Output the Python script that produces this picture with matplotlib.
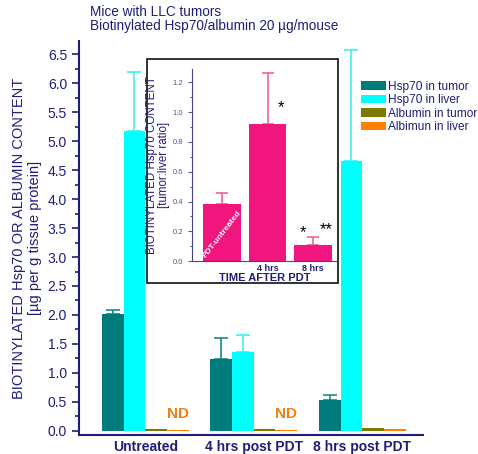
import matplotlib.pyplot as plt
from matplotlib.patches import Rectangle, Patch
from matplotlib.ticker import MultipleLocator
import numpy as np

plt.rcParams['font.family'] = ['Liberation Sans', 'DejaVu Sans']

# main chart data
groups = ['Untreated', '4 hrs post PDT', '8 hrs post PDT']
series = ['Hsp70 in tumor', 'Hsp70 in liver', 'Albumin in tumor', 'Albimun in liver']
hsp_tumor = [2.02, 1.24, 0.54]
hsp_tumor_err = [0.07, 0.37, 0.08]
hsp_liver = [5.18, 1.36, 4.65]
hsp_liver_err = [1.02, 0.30, 1.93]
alb_tumor = [0.03, 0.03, 0.05]
alb_liver = [0.01, 0.01, 0.03]

# inset data
inset_labels = ['', '4 hrs', '8 hrs']
ratio = [0.38, 0.92, 0.11]
ratio_err = [0.08, 0.34, 0.05]

navy = '#1e1e78'
colors = ['#007b7b', '#00ffff', '#7b7b00', '#ff8000']
err_colors = ['#1a8a8a', '#40f0f0', '#7b7b00', '#ff8000']
pink = '#f0157f'

fig = plt.figure(figsize=(4.78, 4.54), dpi=100)
ax = fig.add_axes([0.165, 0.042, 0.72, 0.868])

x = np.arange(len(groups)) * 5.0
values = [hsp_tumor, hsp_liver, alb_tumor, alb_liver]
errs = [hsp_tumor_err, hsp_liver_err, None, None]
for i, (vals, c) in enumerate(zip(values, colors)):
    pos = x + (i - 1.5)
    ax.bar(pos, vals, width=1.0, color=c, zorder=2)
    if errs[i] is not None:
        ax.errorbar(pos, vals, yerr=[np.zeros(3), errs[i]], fmt='none',
                    ecolor=err_colors[i], elinewidth=1.2, capsize=5, capthick=1.2, zorder=1)

for g in [0, 1]:
    ax.text(x[g] + 1.5, 0.29, 'ND', color='#f08010', fontsize=11, fontweight='bold',
            ha='center', va='center')

ax.set_xlim(-3.06, 12.8)
ax.set_ylim(-0.07, 6.73)
ax.yaxis.set_major_locator(MultipleLocator(0.5))
ax.yaxis.set_minor_locator(MultipleLocator(0.25))
ax.yaxis.set_major_formatter(plt.FormatStrFormatter('%.1f'))
ax.set_xticks(x)
ax.set_xticklabels(groups, fontweight='bold', fontsize=10, color=navy)
ax.tick_params(axis='x', length=0, pad=4)
ax.tick_params(axis='y', colors=navy, labelsize=10, width=1.2, length=5)
ax.tick_params(axis='y', which='minor', colors=navy, width=1.2, length=3)
for s in ['top', 'right']:
    ax.spines[s].set_visible(False)
for s in ['left', 'bottom']:
    ax.spines[s].set_color(navy)
    ax.spines[s].set_linewidth(1.5)
ax.set_ylabel('BIOTINYLATED Hsp70 OR ALBUMIN CONTENT\n[\u00b5g per g tissue protein]',
              fontsize=10.5, color=navy, labelpad=4)

fig.text(0.188, 0.99, 'Mice with LLC tumors\nBiotinylated Hsp70/albumin 20 \u00b5g/mouse',
         fontsize=9.8, color=navy, va='top', ha='left', linespacing=1.05)

handles = [Patch(facecolor=c) for c in colors]
fig.legend(handles, series, loc='upper left', bbox_to_anchor=(0.755, 0.822),
           frameon=False, fontsize=8.6, handlelength=2.1, handleheight=0.75,
           handletextpad=0.2, labelspacing=0.12, borderaxespad=0, borderpad=0,
           labelcolor=navy)

# inset frame
fig.patches.append(Rectangle((147 / 478, 1 - 283 / 454), (338 - 147) / 478, (283 - 59) / 454,
                             transform=fig.transFigure, facecolor='white',
                             edgecolor='#222222', linewidth=1.3, zorder=3))

ins = fig.add_axes([0.402, 0.425, 0.303, 0.423], zorder=4)
ins.patch.set_visible(False)
xi = np.arange(len(ratio))
ins.bar(xi, ratio, width=0.835, color=pink, zorder=2)
ins.errorbar(xi, ratio, yerr=[np.zeros(3), ratio_err], fmt='none', ecolor='#f060a0',
             elinewidth=1.2, capsize=4, capthick=1.2, zorder=1)
ins.set_xlim(-0.66, 2.53)
ins.set_ylim(0, 1.29)
ins.yaxis.set_major_locator(MultipleLocator(0.2))
ins.yaxis.set_minor_locator(MultipleLocator(0.1))
ins.yaxis.set_major_formatter(plt.FormatStrFormatter('%.1f'))
ins.set_xticks(xi)
ins.set_xticklabels(inset_labels, fontsize=6.5, fontweight='bold', color=navy)
ins.tick_params(axis='x', length=0, pad=2)
ins.tick_params(axis='y', labelsize=5.5, colors='#555588', length=3, width=0.8)
ins.tick_params(axis='y', which='minor', length=1.5, width=0.8, colors='#555588')
for s in ['top', 'right']:
    ins.spines[s].set_visible(False)
for s in ['left', 'bottom']:
    ins.spines[s].set_color('#444488')
    ins.spines[s].set_linewidth(0.8)
ins.set_xlabel('TIME AFTER PDT', fontsize=8, fontweight='bold', color=navy, labelpad=0)
ins.set_ylabel('BIOTINYLATED Hsp70 CONTENT\n[tumor:liver ratio]', fontsize=8.3,
               color=navy, labelpad=2, linespacing=1.0)
ins.text(0, 0.18, 'PDT-untreated', rotation=52, rotation_mode='anchor', color='white',
         fontsize=6, ha='center', va='center', fontweight='bold')
ins.text(1.3, 1.03, '*', fontsize=12, ha='center', va='center')
ins.text(1.78, 0.19, '*', fontsize=12, ha='center', va='center')
ins.text(2.3, 0.21, '**', fontsize=12, ha='center', va='center')

fig.savefig('out.png', dpi=100)
